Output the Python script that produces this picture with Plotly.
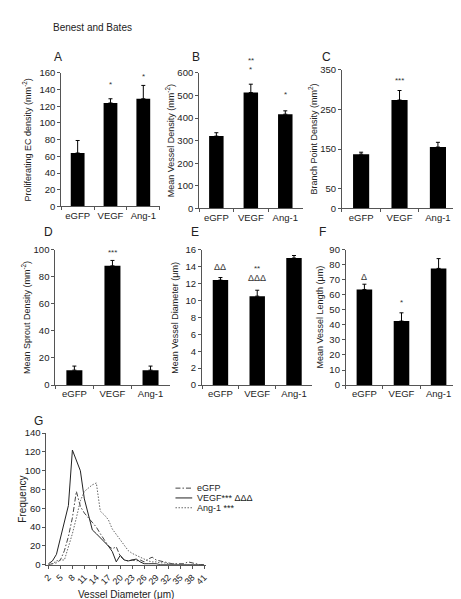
import plotly.graph_objects as go

W, H = 461, 599
FONT = "Liberation Sans, Arial, sans-serif"

# ---------------- data ----------------
groups = ["eGFP", "VEGF", "Ang-1"]

prolif_ec = [64, 124, 129]
prolif_ec_err = [15, 5, 16]

vessel_density = [320, 513, 417]
vessel_density_err = [15, 37, 15]

branch_density = [137, 274, 155]
branch_density_err = [5, 24, 12]

sprout_density = [11, 88, 11]
sprout_density_err = [3, 4, 3]

vessel_diameter = [12.4, 10.5, 15.0]
vessel_diameter_err = [0.3, 0.7, 0.3]

vessel_length = [63.5, 42.5, 77.5]
vessel_length_err = [3.5, 5.5, 6.5]

diam_bins = list(range(2, 42))
freq_egfp = [0, 1, 2, 5, 15, 30, 50, 78, 62, 55, 50, 45, 40, 33, 27, 20, 17, 19, 9, 5,
             4, 5, 4, 5, 3, 6, 8, 5, 4, 3, 2, 1, 1, 1, 1, 3, 2, 1, 0, 0]
freq_vegf = [1, 4, 11, 28, 45, 63, 122, 112, 100, 70, 52, 37, 33, 29, 25, 20, 14, 3, 10, 5,
             4, 5, 6, 3, 1, 1, 1, 1, 0, 0, 0, 0, 0, 0, 0, 0, 0, 0, 0, 0]
freq_ang1 = [0, 1, 4, 5, 5, 18, 33, 50, 68, 78, 82, 85, 87, 57, 53, 48, 38, 32, 26, 20,
             15, 12, 10, 8, 6, 4, 3, 3, 2, 2, 1, 1, 1, 0, 0, 0, 0, 0, 0, 0]
diam_ticks = list(range(2, 42, 3))

# significance labels: (panel, group, text, y in data units)
sig_labels = [
    ("A", "VEGF", "*", 149), ("A", "Ang-1", "*", 158),
    ("B", "VEGF", "**", 665), ("B", "VEGF", "*", 622), ("B", "Ang-1", "*", 513),
    ("C", "VEGF", "***", 328),
    ("D", "VEGF", "***", 99),
    ("E", "eGFP", "ΔΔ", 13.9), ("E", "VEGF", "**", 14.0), ("E", "VEGF", "ΔΔΔ", 12.6),
    ("F", "eGFP", "Δ", 71.5), ("F", "VEGF", "*", 56),
]

# ---------------- layout geometry (pixels) ----------------
panels = {
    "A": (1, 50, 150, 60, 196, [0, 160], list(range(0, 161, 20)),
          "Proliferating EC density (mm<sup>-2</sup>)", 15, (41, 44), prolif_ec, prolif_ec_err),
    "B": (2, 190, 295, 60, 198, [0, 600], list(range(0, 601, 100)),
          "Mean Vessel Density (mm<sup>-2</sup>)", 160, (181, 44), vessel_density, vessel_density_err),
    "C": (3, 335, 452, 57, 198, [0, 350], [0, 50, 150, 250, 350],
          "Branch Point Density (mm<sup>2</sup>)", 306, (313, 44), branch_density, branch_density_err),
    "D": (4, 44, 160, 240, 378, [0, 100], list(range(0, 101, 20)),
          "Mean Sprout Density (mm<sup>-2</sup>)", 15, (30, 222), sprout_density, sprout_density_err),
    "E": (5, 193, 305, 240, 378, [0, 16], list(range(0, 17, 2)),
          "Mean Vessel Diameter (μm)", 166, (180, 222), vessel_diameter, vessel_diameter_err),
    "F": (6, 339, 452, 240, 378, [0, 90], list(range(0, 91, 10)),
          "Mean Vessel Length (μm)", 313, (310, 222), vessel_length, vessel_length_err),
}

AXCOL = "#555555"
TXT = "#222222"
fig = go.Figure()
layout = {}
annotations = []
shapes = []


def xd(a, b):
    return [a / W, b / W]


def yd(top, bot):
    return [1 - bot / H, 1 - top / H]


for key, (i, x0, x1, yt, yb, yr, tv, ytitle, tx, (lx, ly), vals, errs) in panels.items():
    sfx = "" if i == 1 else str(i)
    fig.add_trace(go.Bar(
        x=groups, y=vals, xaxis="x" + sfx, yaxis="y" + sfx,
        marker=dict(color="black", line=dict(width=0)), width=0.42,
        error_y=dict(type="data", array=errs, arrayminus=[0] * len(errs), symmetric=False,
                     color="black", thickness=1, width=2),
        showlegend=False, name=key,
    ))
    layout["xaxis" + sfx] = dict(
        domain=xd(x0, x1), anchor="y" + sfx, type="category", range=[-0.5, 2.5],
        showline=True, linecolor=AXCOL, linewidth=1, ticks="outside", ticklen=3,
        tickcolor=AXCOL, tickson="boundaries", showgrid=False, zeroline=False,
        tickangle=0, tickfont=dict(size=9.5, color=TXT),
    )
    layout["yaxis" + sfx] = dict(
        domain=yd(yt, yb), anchor="x" + sfx, range=yr, tickvals=tv,
        showline=True, linecolor=AXCOL, linewidth=1, ticks="outside", ticklen=3,
        tickcolor=AXCOL, showgrid=False, zeroline=False,
        tickfont=dict(size=9.5, color=TXT),
    )
    annotations.append(dict(text=ytitle, xref="paper", yref="paper", x=tx / W,
                            y=1 - (yt + yb) / 2 / H, textangle=-90, showarrow=False,
                            xanchor="center", yanchor="middle",
                            font=dict(size=9, color=TXT)))
    annotations.append(dict(text=key, xref="paper", yref="paper", x=lx / W, y=1 - ly / H,
                            showarrow=False, xanchor="left", yanchor="middle",
                            font=dict(size=12, color=TXT)))

# significance marks, positioned in paper space (so labels above the axis range still show)
for key, grp, txt, yv in sig_labels:
    i, x0, x1, yt, yb, yr = panels[key][:6]
    sfx = "" if i == 1 else str(i)
    py = yb - (yv - yr[0]) / (yr[1] - yr[0]) * (yb - yt)
    star = "*" in txt
    annotations.append(dict(text=txt, xref="x" + sfx, yref="paper", x=grp, y=1 - py / H,
                            showarrow=False, xanchor="center", yanchor="middle",
                            yshift=-2 if star else 0,
                            font=dict(size=8 if star else 9, color="#333")))

# ---------------- panel G ----------------
line_styles = [
    ("eGFP", freq_egfp, dict(color="#444444", width=1, dash="5px,2px,1.5px,2px")),
    ("VEGF*** ΔΔΔ", freq_vegf, dict(color="#222222", width=1, dash="solid")),
    ("Ang-1 ***", freq_ang1, dict(color="#666666", width=1, dash="1.5px,1.5px")),
]
for name, ys, ln in line_styles:
    fig.add_trace(go.Scatter(x=diam_bins, y=ys, mode="lines", line=ln, name=name,
                             xaxis="x7", yaxis="y7", showlegend=False))

layout["xaxis7"] = dict(domain=xd(35, 197), anchor="y7", range=[1.5, 41.5],
                        tickvals=diam_ticks, tickangle=-45, showline=True, linecolor=AXCOL,
                        ticks="outside", ticklen=3, tickcolor=AXCOL, showgrid=False,
                        zeroline=False, tickfont=dict(size=9, color=TXT))
layout["yaxis7"] = dict(domain=yd(427, 561), anchor="x7", range=[0, 140],
                        tickvals=list(range(0, 141, 20)), showline=True, linecolor=AXCOL,
                        ticks="outside", ticklen=3, tickcolor=AXCOL, showgrid=False,
                        zeroline=False, tickfont=dict(size=9.5, color=TXT))
annotations.append(dict(text="Frequency", xref="paper", yref="paper", x=11 / W,
                        y=1 - 494 / H, textangle=-90, showarrow=False,
                        xanchor="center", yanchor="middle",
                        font=dict(size=10, color=TXT)))
annotations.append(dict(text="Vessel Diameter (μm)", xref="paper", yref="paper", x=116 / W,
                        y=1 - 591 / H, showarrow=False, xanchor="center", yanchor="middle",
                        font=dict(size=10, color=TXT)))
annotations.append(dict(text="G", xref="paper", yref="paper", x=20 / W, y=1 - 415 / H,
                        showarrow=False, xanchor="left", yanchor="middle",
                        font=dict(size=12, color=TXT)))

# manual legend for G
for k, (name, ys, ln) in enumerate(line_styles):
    ly = 483 + k * 10
    shapes.append(dict(type="line", xref="paper", yref="paper", x0=166 / W, x1=183 / W,
                       y0=1 - ly / H, y1=1 - ly / H, line=ln))
    annotations.append(dict(text=name, xref="paper", yref="paper", x=186 / W, y=1 - ly / H,
                            showarrow=False, xanchor="left", yanchor="middle",
                            font=dict(size=9, color=TXT)))

annotations.append(dict(text="Benest and Bates", xref="paper", yref="paper", x=40 / W,
                        y=1 - 14 / H, showarrow=False, xanchor="left", yanchor="middle",
                        font=dict(size=10, color=TXT)))

fig.update_layout(
    width=W, height=H, margin=dict(l=0, r=0, t=0, b=0),
    paper_bgcolor="white", plot_bgcolor="white",
    font=dict(family=FONT, size=10, color=TXT),
    annotations=annotations, shapes=shapes, showlegend=False, bargap=0.5,
    **layout,
)
fig.write_html("out.html")
